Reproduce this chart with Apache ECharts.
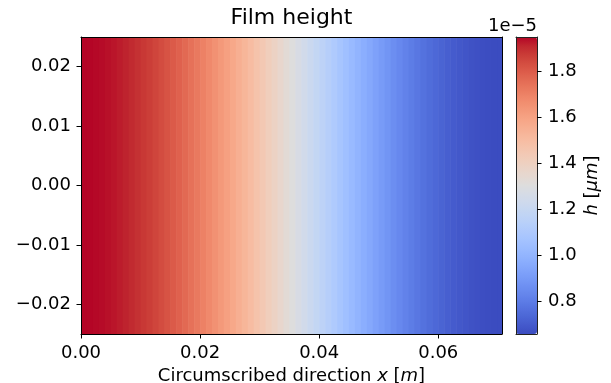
<!DOCTYPE html>
<html>
<head>
<meta charset="utf-8">
<script src="https://cdn.jsdelivr.net/npm/echarts@6/dist/echarts.min.js"></script>
<style>
html,body{margin:0;padding:0;background:#fff;}
#chart{width:611px;height:383px;}
</style>
</head>
<body>
<div id="chart"></div>
<script>
// ---- data (h in units of 1e-5) ----
var xCenters = [
  0.0005,0.0015,0.0025,0.0035,0.0045,0.0055,0.0065,0.0075,0.0085,0.0095,
  0.0105,0.0115,0.0125,0.0135,0.0145,0.0155,0.0165,0.0175,0.0185,0.0195,
  0.0205,0.0215,0.0225,0.0235,0.0245,0.0255,0.0265,0.0275,0.0285,0.0295,
  0.0305,0.0315,0.0325,0.0335,0.0345,0.0355,0.0365,0.0375,0.0385,0.0395,
  0.0405,0.0415,0.0425,0.0435,0.0445,0.0455,0.0465,0.0475,0.0485,0.0495,
  0.0505,0.0515,0.0525,0.0535,0.0545,0.0555,0.0565,0.0575,0.0585,0.0595,
  0.0605,0.0615,0.0625,0.0635,0.0645,0.0655,0.0665,0.0675,0.0685,0.0695,
  0.0705
];
var hValues = [
  1.951,1.950,1.947,1.943,1.938,1.932,1.924,1.916,1.906,1.894,
  1.882,1.869,1.854,1.839,1.822,1.804,1.786,1.766,1.745,1.724,
  1.702,1.679,1.655,1.631,1.606,1.580,1.554,1.528,1.500,1.472,
  1.444,1.416,1.388,1.359,1.331,1.302,1.273,1.245,1.216,1.188,
  1.160,1.132,1.105,1.077,1.051,1.025,0.999,0.974,0.950,0.926,
  0.903,0.881,0.859,0.839,0.819,0.801,0.783,0.767,0.751,0.737,
  0.724,0.711,0.700,0.690,0.682,0.674,0.668,0.663,0.660,0.657,
  0.656
];
var cellWidth = 0.001;
var xMin = 0, xMax = 0.0707;
var yMin = -0.025, yMax = 0.025;
var hMin = 0.656, hMax = 1.951;
var xTicks = [0, 0.02, 0.04, 0.06];
var yTicks = [-0.02, -0.01, 0, 0.01, 0.02];
var cTicks = [0.8, 1.0, 1.2, 1.4, 1.6, 1.8];
var titleText = 'Film height';
var offsetText = '1e\u22125';

var coolwarm = ['#3b4cc0','#445acc','#4d68d7','#5775e1','#6282ea','#6c8ef1','#779af7','#82a5fb',
  '#8db0fe','#98b9ff','#a3c2ff','#aec9fd','#b8d0f9','#c2d5f4','#ccd9ee','#d5dbe6','#dddddd',
  '#e5d8d1','#ecd3c5','#f1ccb9','#f5c4ad','#f7bba0','#f7b194','#f7a687','#f49a7b','#f18d6f',
  '#ec7f63','#e57058','#de604d','#d55042','#cb3e38','#c0282f','#b40426'];

var FONT = 'DejaVu Sans';
function fmtNum(v, d) {
  var s = Math.abs(v).toFixed(d);
  return (v < -1e-12 ? '\u2212' : '') + s;
}

var data = xCenters.map(function (x, i) { return [x, hValues[i]]; });

var chart = echarts.init(document.getElementById('chart'), null, {renderer: 'canvas'});
var axisLineStyle = {color: '#000', width: 1};

var option = {
  animation: false,
  backgroundColor: '#fff',
  grid: [
    {left: 81, top: 37, width: 421, height: 297, containLabel: false, outerBoundsMode: 'none'},
    {left: 516, top: 37, width: 21, height: 297, containLabel: false, outerBoundsMode: 'none'}
  ],
  xAxis: [
    {
      gridIndex: 0, type: 'value', min: xMin, max: xMax, z: 10,
      axisLine: {show: true, onZero: false, lineStyle: axisLineStyle},
      axisTick: {show: true, length: 4.5, inside: false, customValues: xTicks, lineStyle: axisLineStyle},
      axisLabel: {show: true, customValues: xTicks, margin: 10, formatter: function (v) { return fmtNum(v, 2); },
        color: '#000', fontFamily: FONT, fontSize: 18},
      splitLine: {show: false},
      name: '{n|Circumscribed direction }{i|x}{n| [}{i|m}{n|]}',
      nameLocation: 'middle', nameGap: 33,
      nameTextStyle: {verticalAlign: 'top', rich: {
        n: {fontFamily: FONT, fontSize: 18, color: '#000'},
        i: {fontFamily: FONT, fontSize: 18, color: '#000', fontStyle: 'italic'}
      }}
    },
    {
      gridIndex: 0, type: 'value', position: 'top', min: xMin, max: xMax, z: 10,
      axisLine: {show: true, onZero: false, lineStyle: axisLineStyle},
      axisTick: {show: false}, axisLabel: {show: false}, splitLine: {show: false}
    },
    {
      gridIndex: 1, type: 'value', min: 0, max: 1, z: 10,
      axisLine: {show: true, onZero: false, lineStyle: {color: '#222', width: 1}},
      axisTick: {show: false}, axisLabel: {show: false}, splitLine: {show: false}
    },
    {
      gridIndex: 1, type: 'value', position: 'top', min: 0, max: 1, z: 10,
      axisLine: {show: true, onZero: false, lineStyle: {color: '#222', width: 1}},
      axisTick: {show: false}, axisLabel: {show: false}, splitLine: {show: false}
    }
  ],
  yAxis: [
    {
      gridIndex: 0, type: 'value', min: yMin, max: yMax, z: 10,
      axisLine: {show: true, onZero: false, lineStyle: axisLineStyle},
      axisTick: {show: true, length: 4.5, inside: false, customValues: yTicks, lineStyle: axisLineStyle},
      axisLabel: {show: true, customValues: yTicks, margin: 10, formatter: function (v) { return fmtNum(v, 2); },
        color: '#000', fontFamily: FONT, fontSize: 18},
      splitLine: {show: false}
    },
    {
      gridIndex: 0, type: 'value', position: 'right', min: yMin, max: yMax, z: 10,
      axisLine: {show: true, onZero: false, lineStyle: axisLineStyle},
      axisTick: {show: false}, axisLabel: {show: false}, splitLine: {show: false}
    },
    {
      gridIndex: 1, type: 'value', position: 'right', min: hMin, max: hMax, z: 10,
      axisLine: {show: true, onZero: false, lineStyle: {color: '#222', width: 1}},
      axisTick: {show: true, length: 4.5, inside: false, customValues: cTicks, lineStyle: axisLineStyle},
      axisLabel: {show: true, customValues: cTicks, margin: 11, formatter: function (v) { return fmtNum(v, 1); },
        color: '#000', fontFamily: FONT, fontSize: 18},
      splitLine: {show: false},
      name: '{i|h}{n| [}{i|\u03bcm}{n|]}',
      nameLocation: 'middle', nameGap: 46, nameRotate: 90,
      nameTextStyle: {rich: {
        n: {fontFamily: FONT, fontSize: 18, color: '#000'},
        i: {fontFamily: FONT, fontSize: 18, color: '#000', fontStyle: 'italic'}
      }}
    },
    {
      gridIndex: 1, type: 'value', position: 'left', min: hMin, max: hMax, z: 10,
      axisLine: {show: true, onZero: false, lineStyle: {color: '#222', width: 1}},
      axisTick: {show: false}, axisLabel: {show: false}, splitLine: {show: false}
    }
  ],
  visualMap: {
    type: 'continuous',
    min: hMin, max: hMax,
    dimension: 1,
    seriesIndex: 0,
    orient: 'vertical',
    left: 516, top: 37,
    itemWidth: 21, itemHeight: 297,
    padding: 0,
    calculable: false,
    hoverLink: false,
    text: null,
    showLabel: false,
    inRange: {color: coolwarm}
  },
  graphic: [
    {type: 'text', x: 291.5, y: 18.5, z: 20,
      style: {text: titleText, fill: '#000', font: '22px "DejaVu Sans"', align: 'center', verticalAlign: 'middle'}},
    {type: 'text', x: 537, y: 26.5, z: 20,
      style: {text: offsetText, fill: '#000', font: '18px "DejaVu Sans"', align: 'right', verticalAlign: 'middle'}}
  ],
  series: [
    {
      type: 'custom',
      xAxisIndex: 0, yAxisIndex: 0,
      clip: true,
      data: data,
      encode: {x: 0, y: 1},
      renderItem: function (params, api) {
        var xc = api.value(0);
        var p0 = api.coord([xc - cellWidth / 2, yMax]);
        var p1 = api.coord([xc + cellWidth / 2, yMin]);
        var rect = echarts.graphic.clipRectByRect(
          {x: p0[0], y: p0[1], width: p1[0] - p0[0] + 0.6, height: p1[1] - p0[1]},
          {x: params.coordSys.x, y: params.coordSys.y, width: params.coordSys.width, height: params.coordSys.height}
        );
        if (!rect) return;
        return {type: 'rect', shape: rect, style: {fill: api.visual('color')}};
      }
    }
  ]
};
chart.setOption(option);
</script>
</body>
</html>
